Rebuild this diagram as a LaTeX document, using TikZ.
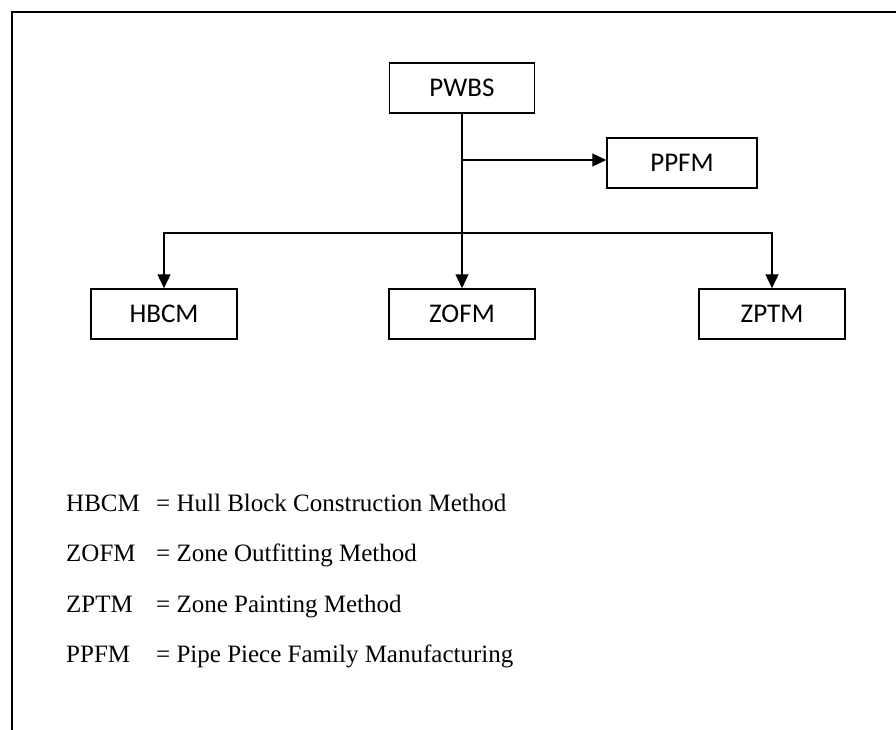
\documentclass[tikz,border=0pt]{standalone}
\usepackage{fontspec}
\setmainfont{Liberation Serif}
\newfontfamily\boxfont{Carlito}
\usetikzlibrary{arrows.meta, positioning}

\begin{document}
\begin{tikzpicture}[x=1pt, y=-1pt, >={Triangle[length=14pt, width=13pt]},
  blk/.style={draw, line width=1.5pt, minimum width=146pt, minimum height=50pt,
    inner sep=0pt, font=\boxfont\fontsize{27}{30}\selectfont},
  link/.style={->, line width=1.3pt},
  abbr/.style={anchor=base west, inner sep=0pt, font=\fontsize{25}{30}\selectfont}]
  % Page and frame
  \clip (0,0) rectangle (896,730);
  \draw[line width=1.5pt] (12,12) rectangle (920,760);
  % Boxes
  \node[blk, minimum width=145pt] (pwbs) at (462,88) {PWBS};
  \node[blk, minimum width=150pt] (ppfm) at (682,163) {PPFM};
  \node[blk] (hbcm) at (164,314) {HBCM};
  \node[blk] (zofm) at (462,314) {ZOFM};
  \node[blk] (zptm) at (772,314) {ZPTM};
  % Links
  \coordinate (bar) at (pwbs.south |- 0,233);
  \draw[link] (pwbs.south) -- (zofm.north);
  \draw[link] (pwbs.south |- 0,160) -- (ppfm.west |- 0,160);
  \draw[link] (bar) -| (hbcm.north);
  \draw[link] (bar) -| (zptm.north);
  % Legend
  \node[abbr] (lHbcm) at (66,511) {HBCM};
  \node[abbr] (dHbcm) at (156,511) {= Hull Block Construction Method};
  \node[abbr] (lZofm) at (66,561) {ZOFM};
  \node[abbr] (dZofm) at (156,561) {= Zone Outfitting Method};
  \node[abbr] (lZptm) at (66,612) {ZPTM};
  \node[abbr] (dZptm) at (156,612) {= Zone Painting Method};
  \node[abbr] (lPpfm) at (66,662) {PPFM};
  \node[abbr] (dPpfm) at (156,662) {= Pipe Piece Family Manufacturing};
\end{tikzpicture}
\end{document}
